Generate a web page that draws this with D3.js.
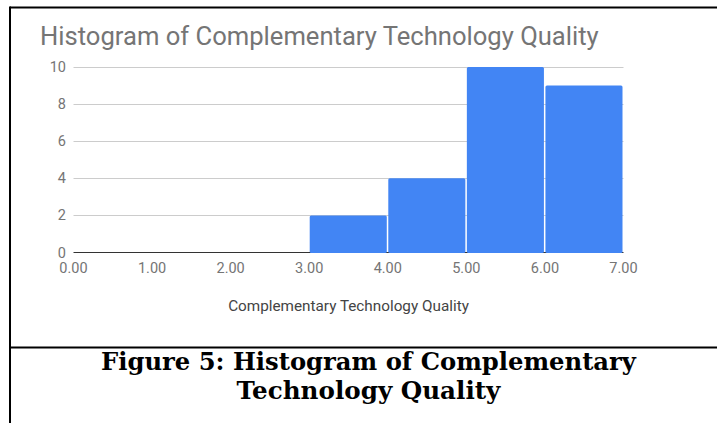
<!DOCTYPE html>
<html>
<head>
<meta charset="utf-8">
<script src="https://cdn.jsdelivr.net/npm/d3@7"></script>
<style>
  body { margin: 0; background: #fff; }
  svg { display: block; }
</style>
</head>
<body>
<div id="container"></div>
<script>
// histogram bins and counts
const binEdges = [0, 1, 2, 3, 4, 5, 6, 7];
const counts = [0, 0, 0, 2, 4, 10, 9];
const yTicks = [0, 2, 4, 6, 8, 10];
const chartTitle = 'Histogram of Complementary Technology Quality';
const xTitle = 'Complementary Technology Quality';
const captionLines = ['Figure 5: Histogram of Complementary', 'Technology Quality'];

const W = 717, H = 423;

const svg = d3.select('#container').append('svg')
	.attr('width', W)
	.attr('height', H);

// fit a text node to a wanted width by tweaking its font size
function fitWidth(sel, target){
	var len = sel.node().getComputedTextLength();
	var fs = parseFloat(sel.attr('font-size'));
	sel.attr('font-size', fs * target / len);
}

// frame lines
svg.append('line').attr('x1', 10).attr('x2', W).attr('y1', 7.5).attr('y2', 7.5)
	.attr('stroke', '#000').attr('stroke-width', 2);
svg.append('line').attr('x1', 10).attr('x2', 10).attr('y1', 6.5).attr('y2', H)
	.attr('stroke', '#000').attr('stroke-width', 2);
svg.append('line').attr('x1', 10).attr('x2', W).attr('y1', 347.5).attr('y2', 347.5)
	.attr('stroke', '#000').attr('stroke-width', 2);

var x = d3.scaleLinear()
	.domain([binEdges[0], binEdges[binEdges.length - 1]])
	.range([73.5, 623.5]);

var y = d3.scaleLinear()
	.domain([0, 10])
	.range([252.5, 67]);

// title
var t = svg.append('text')
	.attr('x', 40).attr('y', 45)
	.attr('font-family', 'Roboto')
	.attr('font-size', 22)
	.attr('fill', '#757575')
	.text(chartTitle);
fitWidth(t, 559);

// gridlines + y labels
var yg = svg.append('g');
yTicks.forEach(v => {
	if (v > 0){
		yg.append('line')
			.attr('x1', x.range()[0]).attr('x2', x.range()[1])
			.attr('y1', Math.round(y(v)) + 0.5).attr('y2', Math.round(y(v)) + 0.5)
			.attr('stroke', '#cccccc').attr('stroke-width', 1);
	}
	yg.append('text')
		.attr('x', 66).attr('y', y(v) + 5)
		.attr('text-anchor', 'end')
		.attr('font-family', 'Roboto')
		.attr('font-size', 14.5)
		.attr('fill', '#757575')
		.text(v);
});

// baseline
svg.append('line')
	.attr('x1', x.range()[0]).attr('x2', x.range()[1])
	.attr('y1', y(0)).attr('y2', y(0))
	.attr('stroke', '#333').attr('stroke-width', 1);

// bars
var bins = counts.map((c, i) => ({x0: binEdges[i], x1: binEdges[i + 1], n: c}));

svg.append('g').selectAll('rect')
	.data(bins.filter(d => d.n > 0))
	.enter()
	.append('rect')
	.attr('x', d => x(d.x0) + 0.5)
	.attr('width', d => x(d.x1) - x(d.x0) - 1.5)
	.attr('y', d => y(d.n))
	.attr('height', d => y(0) - y(d.n) + 0.5)
	.attr('rx', 1.5)
	.attr('fill', '#4285f4');

// x tick labels
svg.append('g').selectAll('text')
	.data(binEdges)
	.enter()
	.append('text')
	.attr('x', d => x(d))
	.attr('y', 273)
	.attr('text-anchor', 'middle')
	.attr('font-family', 'Roboto')
	.attr('font-size', 14.5)
	.attr('fill', '#757575')
	.text(d => d3.format('.2f')(d));

// x axis title
var xt = svg.append('text')
	.attr('x', (x.range()[0] + x.range()[1]) / 2)
	.attr('y', 311)
	.attr('text-anchor', 'middle')
	.attr('font-family', 'Roboto')
	.attr('font-size', 13)
	.attr('fill', '#444')
	.text(xTitle);
fitWidth(xt, 241);

// caption below the frame line
var capWidths = [535, 264];
captionLines.forEach((line, i) => {
	var c = svg.append('text')
		.attr('x', 368.5)
		.attr('y', 370 + i * 28.5)
		.attr('text-anchor', 'middle')
		.attr('font-family', 'DejaVu Serif')
		.attr('font-weight', 'bold')
		.attr('font-size', 24)
		.attr('fill', '#000')
		.text(line);
	fitWidth(c, capWidths[i]);
});
</script>
</body>
</html>
